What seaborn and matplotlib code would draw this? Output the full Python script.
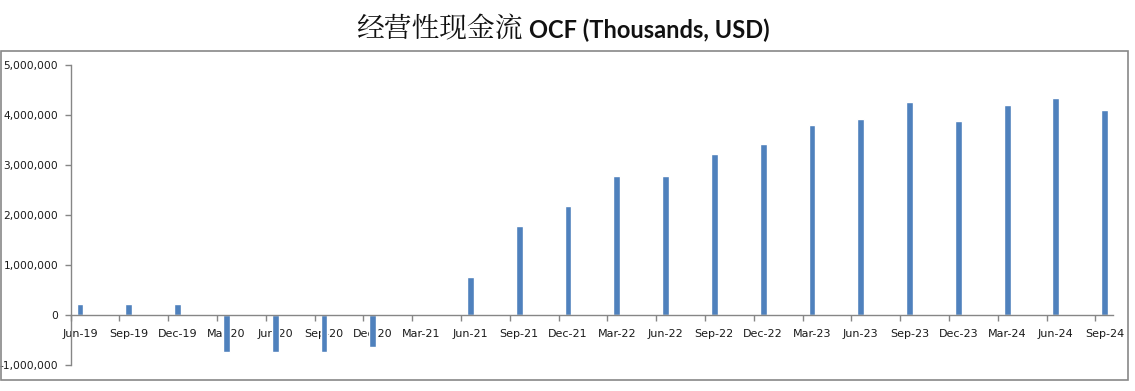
import matplotlib
matplotlib.use("Agg")
import matplotlib.pyplot as plt
import seaborn as sns
import pandas as pd
from matplotlib.patches import Rectangle
from matplotlib.ticker import FuncFormatter, FixedLocator

quarters = ["Jun-19", "Sep-19", "Dec-19", "Mar-20", "Jun-20", "Sep-20", "Dec-20",
            "Mar-21", "Jun-21", "Sep-21", "Dec-21", "Mar-22", "Jun-22", "Sep-22",
            "Dec-22", "Mar-23", "Jun-23", "Sep-23", "Dec-23", "Mar-24", "Jun-24", "Sep-24"]
ocf = [220000, 220000, 220000, -730000, -730000, -730000, -630000,
       0, 770000, 1790000, 2190000, 2790000, 2790000, 3230000,
       3430000, 3810000, 3930000, 4270000, 3890000, 4210000, 4350000, 4110000]
yticks = [-1000000, 0, 1000000, 2000000, 3000000, 4000000, 5000000]

title_cn = "经营性现金流"
title_en = "OCF (Thousands, USD)"

sns.set_theme(style="white")
plt.rcParams['font.family'] = ['DejaVu Sans']
plt.rcParams['axes.unicode_minus'] = False

W, H = 1135, 391
fig = plt.figure(figsize=(W / 100, H / 100), dpi=100)
ax = fig.add_axes([70.7 / W, 1 - 365 / H, (1113 - 70.7) / W, (365 - 65.3) / H])

df = pd.DataFrame({"q": quarters, "v": ocf})
sns.barplot(data=df, x="q", y="v", color="#4F81BD", saturation=1, width=0.14, ax=ax)

ax.set_xlabel("")
ax.set_ylabel("")
ax.set_ylim(-1000000, 5000000)
ax.set_xlim(-0.19, 21.17)

axis_col = "#868686"
for s in ["top", "right"]:
    ax.spines[s].set_visible(False)
ax.spines["left"].set_color(axis_col)
ax.spines["bottom"].set_color(axis_col)
ax.spines["bottom"].set_position(("data", 0))
ax.spines["left"].set_linewidth(1)
ax.spines["bottom"].set_linewidth(1)

ax.set_yticks(yticks)
ax.yaxis.set_major_formatter(FuncFormatter(lambda v, p: f"{int(v):,}"))
ax.tick_params(axis="y", direction="out", length=4, color=axis_col, width=1,
               labelsize=7.7, labelcolor="#1a1a1a", pad=5, left=True)

n = len(quarters)
ax.xaxis.set_major_locator(FixedLocator([i - 0.19 for i in range(n)]))
ax.xaxis.set_minor_locator(FixedLocator(list(range(n))))
ax.xaxis.set_major_formatter(FuncFormatter(lambda v, p: ""))
ax.xaxis.set_minor_formatter(FuncFormatter(lambda v, p: quarters[int(round(v))] if 0 <= int(round(v)) < n else ""))
ax.tick_params(axis="x", which="major", direction="out", length=4, color=axis_col, width=1, bottom=True)
ax.tick_params(axis="x", which="minor", length=0, labelsize=8, labelcolor="#1a1a1a", pad=10, bottom=True)
ax.grid(False)

fig.patches.append(Rectangle((0.5 / W, 1 - 380 / H), 1127 / W, (380 - 51.3) / H,
                             transform=fig.transFigure, fill=False,
                             edgecolor="#888888", lw=1.2))

fig.text(523 / W, 1 - 30 / H, title_cn, ha="right", va="center", fontsize=20,
         family=["Noto Serif CJK SC", "Noto Sans CJK SC", "DejaVu Sans"], color="#111111")
fig.text(529 / W, 1 - 30 / H, title_en, ha="left", va="center", fontsize=17,
         fontweight="bold", family=["Lato", "DejaVu Sans"], color="#111111")

fig.savefig("out.png", dpi=100)
